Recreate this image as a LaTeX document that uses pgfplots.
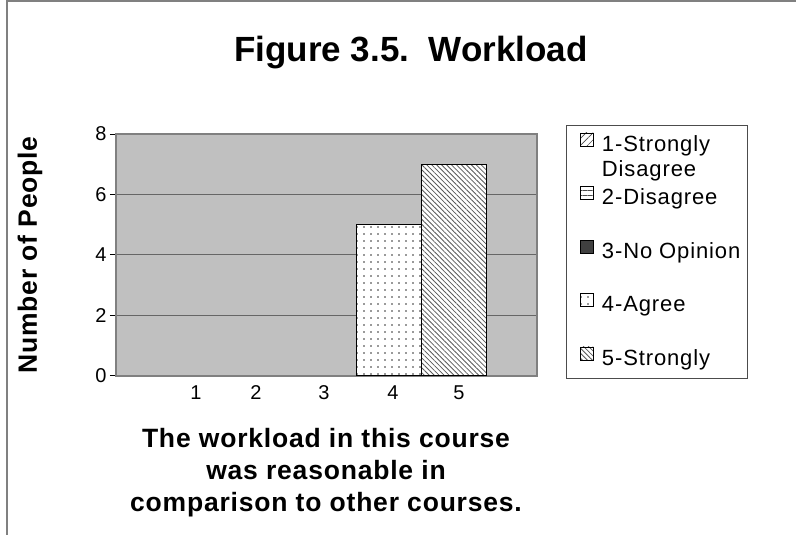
\documentclass[border=0pt]{standalone}
\usepackage{fontspec}
\setmainfont{Liberation Sans}
\usepackage{pgfplots}
\pgfplotsset{compat=1.18}
\usetikzlibrary{patterns.meta}
\definecolor{plotgray}{RGB}{192,192,192}
\definecolor{framegray}{RGB}{128,128,128}
\pgfplotsset{sqleg/.style={legend image code/.code={\path (-2pt,0pt); \draw[##1, line width=0.8pt] (6pt,-1pt) rectangle (19pt,12pt); \path (25pt,0pt);}}}
\newcommand{\lblfont}{\fontsize{26.5}{32}\selectfont\bfseries\addfontfeatures{LetterSpace=3}}
\begin{document}
\begin{tikzpicture}[x=1pt,y=1pt]
\useasboundingbox (0,0) rectangle (796,535);
\draw[framegray, line width=1.5pt] (7,0) -- (7,534) -- (796,534);
\node[anchor=base, font=\fontsize{35}{40}\selectfont\bfseries] at (411,473) {Figure 3.5.\ \ Workload};
\begin{axis}[
  at={(116pt,159pt)}, anchor=south west,
  width=421pt, height=242pt, scale only axis,
  xmin=0, xmax=421, ymin=0, ymax=8,
  xtick={80,140,208,277,343}, xticklabels={1,2,3,4,5},
  ytick={0,2,4,6,8}, ytick pos=left,
  ymajorgrids, grid style={black!60, line width=1pt},
  axis background/.style={fill=plotgray},
  axis line style={framegray, line width=1.5pt},
  tick align=outside, x tick style={draw=none}, y tick style={black, line width=1pt}, major tick length=6pt,
  tick label style={font=\fontsize{20}{24}\selectfont},
  /pgf/number format/assume math mode=true,
  legend style={at={(1.069,1.037)}, anchor=north west, draw=black!70, line width=0.8pt, fill=white, inner sep=5pt, row sep=24.5pt, font=\fontsize{22}{26}\selectfont\addfontfeatures{LetterSpace=4}, nodes={text height=19pt, text depth=6pt, inner sep=2pt}},
  legend cell align=left,
]
\addlegendimage{sqleg, draw=black, fill=white, postaction={pattern={Lines[angle=45,distance=5pt,line width=0.6pt]}, pattern color=black!70}}
\addlegendentry{\rlap{\raisebox{-25pt}[0pt][0pt]{Disagree}}1-Strongly}
\addlegendimage{sqleg, draw=black, fill=white, postaction={pattern={Lines[angle=0,distance=5pt,line width=0.6pt]}, pattern color=black!70}}
\addlegendentry{2-Disagree}
\addlegendimage{sqleg, draw=black, fill=black!75}
\addlegendentry{3-No Opinion}
\addplot[ybar, bar width=65, bar shift=0pt, draw=black, line width=1.5pt, fill=white, postaction={pattern={Dots[distance=7pt,radius=0.8pt]}, pattern color=black!80}, sqleg] coordinates {(273,5)};
\addlegendentry{4-Agree}
\addplot[ybar, bar width=65, bar shift=0pt, draw=black, line width=1.5pt, fill=white, postaction={pattern={Lines[angle=-45,distance=3.5pt,line width=0.8pt]}, pattern color=black!65}, sqleg] coordinates {(338,7)};
\addlegendentry{5-Strongly}
\end{axis}
\node[rotate=90, font=\lblfont] at (30,280) {Number of People};
\node[anchor=base, font=\lblfont] at (326,87) {The workload in this course};
\node[anchor=base, font=\lblfont] at (326,55) {was reasonable in};
\node[anchor=base, font=\lblfont] at (326,23) {comparison to other courses.};
\end{tikzpicture}
\end{document}
